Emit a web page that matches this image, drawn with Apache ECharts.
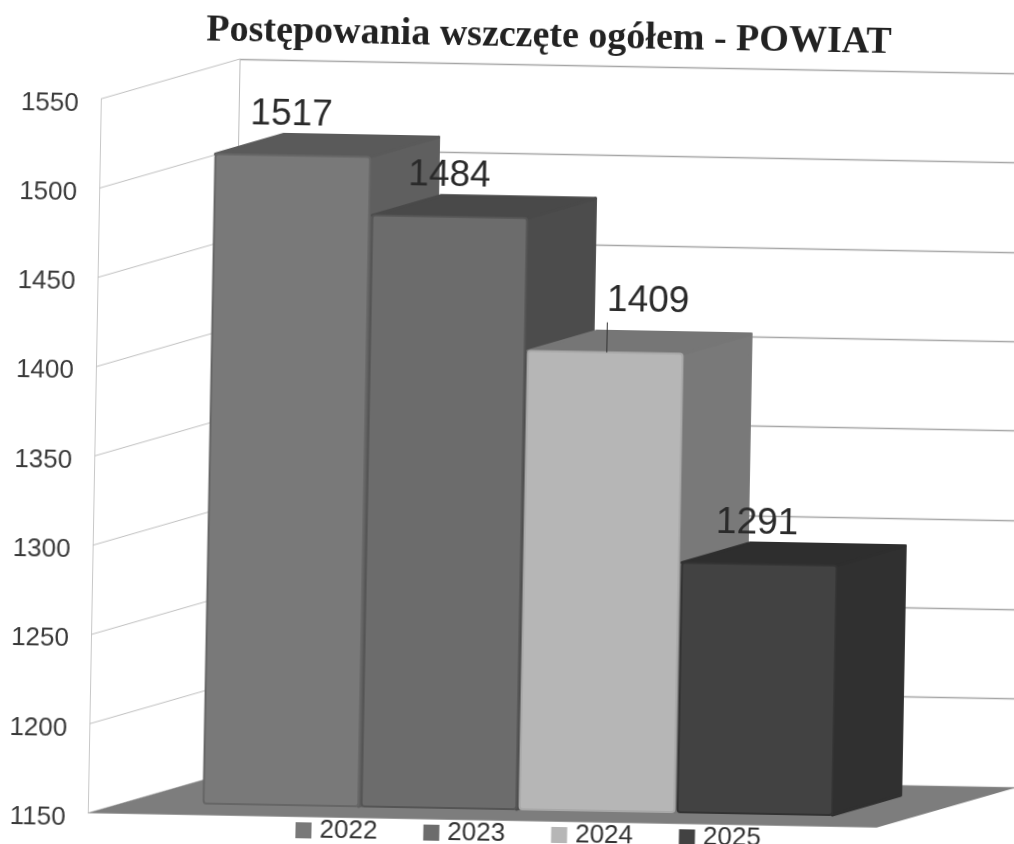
<!DOCTYPE html>
<html>
<head>
<meta charset="utf-8">
<style>
html,body{margin:0;padding:0;width:1014px;height:844px;overflow:hidden;background:#fff}
#c{position:absolute;left:-40px;top:-30px;width:1094px;height:904px;transform:rotate(1.05deg);transform-origin:50% 50%;filter:blur(0.5px)}
</style>
<script src="https://cdn.jsdelivr.net/npm/echarts@6/dist/echarts.min.js"></script>
</head>
<body>
<div id="c"></div>
<script>
const titleText = 'Postępowania wszczęte ogółem - POWIAT';
const years = ['2022', '2023', '2024', '2025'];
const values = [1517, 1484, 1409, 1291];
const axisTicks = [1150, 1200, 1250, 1300, 1350, 1400, 1450, 1500, 1550];

const frontColors = ['#797979', '#6c6c6c', '#b6b6b6', '#424242'];
const topColors = ['#5a5a5a', '#494949', '#767676', '#2e2e2e'];
const sideColors = ['#5f5f5f', '#4c4c4c', '#797979', '#303030'];
const edgeColors = ['#666666', '#555555', '#a8a8a8', '#333333'];

const ox = 40, oy = 30;
const depthX = 68, depthY = -21;
const wallDX = 138.5, wallDY = -42.5;
const floorWidth = 789;
const labelOffsets = [[-2, -41], [-1, -41], [42, -52], [-3, -41]];

const chart = echarts.init(document.getElementById('c'), null, {renderer: 'canvas'});

function barRender(i) {
  return function (params, api) {
    const cat = api.value(0), val = api.value(1);
    const top = api.coord([cat, val]);
    const base = api.coord([cat, 1150]);
    const w = api.size([1, 0])[0] * 0.98;
    const l = top[0] - w / 2, r = top[0] + w / 2, t = top[1], b = base[1];
    const kids = [
      {type: 'polygon', shape: {points: [[r, t], [r + depthX, t + depthY], [r + depthX, b + depthY], [r, b]]},
        style: {fill: sideColors[i], stroke: sideColors[i], lineWidth: 3, lineJoin: 'round'}},
      {type: 'polygon', shape: {points: [[l, t], [l + depthX, t + depthY], [r + depthX, t + depthY], [r, t]]},
        style: {fill: topColors[i], stroke: topColors[i], lineWidth: 3, lineJoin: 'round'}},
      {type: 'rect', shape: {x: l, y: t, width: w, height: b - t, r: 3},
        style: {fill: frontColors[i], stroke: edgeColors[i], lineWidth: 2}},
      {type: 'text', z2: 20, style: {text: String(val), x: top[0] + labelOffsets[i][0], y: t + labelOffsets[i][1],
        fill: '#2a2a2a', font: '37px "Liberation Sans"', align: 'center', verticalAlign: 'middle'}}
    ];
    if (labelOffsets[i][1] < -45) {
      kids.push({type: 'line', z2: 20, shape: {x1: top[0] + 1.5, y1: t - 30, x2: top[0] + 1.5, y2: t},
        style: {stroke: '#333333', lineWidth: 1}});
    }
    return {type: 'group', children: kids};
  };
}

const option = {
  animation: false,
  backgroundColor: '#ffffff',
  title: {
    text: titleText, left: 577, top: 42, textAlign: 'center',
    textStyle: {fontFamily: '"Liberation Serif"', fontWeight: 'bold', fontSize: 38, color: '#222222'}
  },
  legend: {
    data: years, left: 338, top: 846, itemWidth: 16, itemHeight: 16, itemGap: 46, icon: 'rect',
    textStyle: {fontFamily: '"Liberation Sans"', fontSize: 26, color: '#333333', padding: [0, 0, 0, 3]},
    itemStyle: {borderWidth: 0}
  },
  grid: [
    {left: 95 + ox, top: 106.4 + oy, width: wallDX, height: 714.3},
    {left: 209 + ox, top: 101 + oy, width: 632, height: 708},
    {left: 233.5 + ox, top: 64.4 + oy, right: 0, height: 714.3},
    {left: 95 + ox, top: 111.4 + oy, width: wallDX, height: 714.3}
  ],
  xAxis: [
    {gridIndex: 0, type: 'value', min: 0, max: 1, show: false},
    {gridIndex: 1, type: 'category', data: years, show: false},
    {gridIndex: 2, type: 'value', min: 0, max: 1, show: false},
    {gridIndex: 3, type: 'value', min: 0, max: 1, show: false}
  ],
  yAxis: [
    {gridIndex: 0, type: 'value', min: axisTicks[0], max: axisTicks[axisTicks.length - 1], interval: 50,
      axisLine: {show: true, lineStyle: {color: '#c8c8c8', width: 1}}, axisTick: {show: false}, splitLine: {show: false},
      axisLabel: {show: false}},
    {gridIndex: 1, type: 'value', min: axisTicks[0], max: axisTicks[axisTicks.length - 1], interval: 50, show: false},
    {gridIndex: 2, type: 'value', min: axisTicks[0], max: axisTicks[axisTicks.length - 1], interval: 50,
      axisLine: {show: true, lineStyle: {color: '#bdbdbd', width: 1}}, axisTick: {show: false}, axisLabel: {show: false},
      splitLine: {show: true, lineStyle: {color: '#a6a6a6', width: 1.4}}},
    {gridIndex: 3, type: 'value', min: axisTicks[0], max: axisTicks[axisTicks.length - 1], interval: 50,
      axisLine: {show: false}, axisTick: {show: false}, splitLine: {show: false},
      axisLabel: {margin: 22, fontFamily: '"Liberation Sans"', fontSize: 26, color: '#3a3a3a',
        formatter: function (v) { return String(v); }}}
  ],
  series: [
    {
      type: 'custom', name: 'walls', xAxisIndex: 0, yAxisIndex: 0, silent: true, clip: false,
      data: axisTicks.map(t => [0, t]),
      renderItem: function (params, api) {
        const p = api.coord([0, api.value(1)]);
        return {type: 'line', shape: {x1: p[0], y1: p[1], x2: p[0] + wallDX, y2: p[1] + wallDY},
          style: {stroke: '#c0c0c0', lineWidth: 1}};
      }
    },
    {
      type: 'custom', name: 'floor', xAxisIndex: 0, yAxisIndex: 0, silent: true, clip: false,
      data: [[0, axisTicks[0]]],
      renderItem: function (params, api) {
        const p = api.coord([0, api.value(1)]);
        return {type: 'polygon', shape: {points: [
          [p[0], p[1]], [p[0] + wallDX, p[1] + wallDY],
          [p[0] + floorWidth + wallDX, p[1] + wallDY], [p[0] + floorWidth, p[1]]
        ]}, style: {fill: '#7d7d7d'}};
      }
    }
  ].concat(years.map(function (y, i) {
    return {
      type: 'custom', name: y, xAxisIndex: 1, yAxisIndex: 1, silent: true, clip: false,
      itemStyle: {color: frontColors[i]},
      encode: {x: 0, y: 1},
      data: [[i, values[i]]],
      renderItem: barRender(i)
    };
  }))
};
chart.setOption(option);
</script>
</body>
</html>
